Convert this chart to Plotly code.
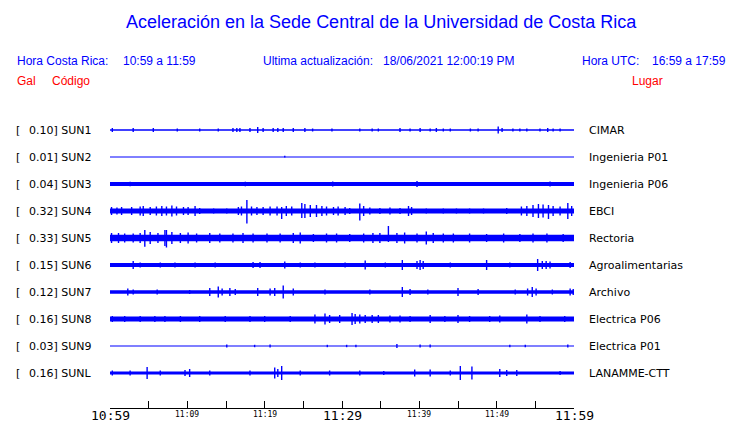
import plotly.graph_objects as go

# ---------------- data ----------------
stations = ["SUN1", "SUN2", "SUN3", "SUN4", "SUN5", "SUN6", "SUN7", "SUN8", "SUN9", "SUNL"]
gal_peak = [0.10, 0.01, 0.04, 0.32, 0.33, 0.15, 0.12, 0.16, 0.03, 0.16]
places = ["CIMAR", "Ingenieria P01", "Ingenieria P06", "EBCI", "Rectoria",
          "Agroalimentarias", "Archivo", "Electrica P06", "Electrica P01", "LANAMME-CTT"]

# background noise half-amplitude of each trace (display units)
noise_level = [0.7, 0.5, 1.9, 2.5, 3.3, 1.9, 1.8, 2.5, 0.6, 1.6]

# visible bursts: (minute after 10:59, amplitude up, amplitude down)
bursts_SUN1 = [(0.3, 2, 2), (3.0, 2, 2), (5.6, 2, 2), (8.7, 1.5, 1.5), (11.6, 1.5, 1.5), (14.0, 1.5, 1.5),
               (15.9, 2, 2), (16.4, 2, 2), (16.8, 2, 2), (18.1, 2, 2), (19.1, 3, 3), (19.8, 2, 2),
               (21.1, 2, 2), (21.7, 2, 2), (22.4, 2, 2), (23.7, 2, 2), (25.2, 2, 2), (26.2, 1.5, 1.5),
               (28.7, 1.5, 1.5), (32.3, 1.5, 1.5), (33.9, 1.5, 1.5), (34.7, 1.5, 1.5), (37.5, 2, 2),
               (38.8, 1.5, 1.5), (40.1, 2, 2), (41.4, 1.5, 1.5), (42.2, 2, 2), (43.1, 1.5, 1.5),
               (44.0, 1.5, 1.5), (46.6, 1.5, 1.5), (47.6, 1.5, 1.5), (50.2, 3.5, 3.5), (50.7, 2, 2),
               (52.1, 1.5, 1.5), (53.0, 1.5, 1.5), (53.9, 1.5, 1.5), (55.6, 1.5, 1.5), (56.6, 2, 2),
               (57.3, 1.5, 1.5), (58.2, 1.5, 1.5)]
bursts_SUN2 = [(22.6, 1.2, 0.5)]
bursts_SUN3 = [(2.6, 2.3, 2.3), (17.5, 2.3, 2.3), (28.8, 2.5, 2.5), (39.7, 3, 3), (56.9, 2.5, 2.5)]
bursts_SUN4 = [(0.2, 4, 4), (0.9, 3.5, 3.5), (1.5, 4, 4), (2.8, 4, 4), (3.9, 4.5, 4.5), (4.3, 5, 5),
               (5.2, 4, 4), (6.0, 4.5, 4.5), (6.7, 5, 5), (7.3, 4.5, 4.5), (8.0, 5.5, 5.5), (8.6, 4.5, 4.5),
               (9.5, 4, 4), (10.1, 4, 4), (11.0, 5, 5), (11.6, 3, 3), (13.4, 2.5, 2.5), (15.1, 2.5, 2.5),
               (16.6, 4, 4), (17.0, 4.5, 4.5), (17.7, 11, 12.5), (18.3, 4.5, 4.5), (19.0, 4, 4),
               (19.8, 4, 4), (20.7, 4.5, 4.5), (21.6, 4.5, 4.5), (22.2, 4, 8), (22.8, 5, 5),
               (23.5, 4.5, 4.5), (24.8, 8, 7), (25.2, 7, 7), (25.9, 6, 6), (26.7, 6, 6), (27.4, 5, 5),
               (28.0, 4.5, 4.5), (28.9, 4, 4), (29.5, 4.5, 4.5), (30.4, 4, 4), (31.0, 3, 3),
               (32.3, 7.5, 9.5), (32.8, 5, 5), (33.6, 3.5, 3.5), (34.9, 3, 3), (36.2, 3.5, 3.5),
               (37.5, 3, 3), (38.6, 5, 5), (39.0, 4, 4), (40.9, 2.5, 2.5), (43.1, 2.5, 2.5),
               (44.8, 2.5, 2.5), (46.5, 2.5, 2.5), (48.3, 2.5, 2.5), (51.3, 3, 3), (53.2, 4.5, 4.5),
               (53.9, 5, 5), (54.7, 6, 6), (55.4, 7, 7), (56.0, 6.5, 6.5), (56.7, 6, 8), (57.3, 5, 5),
               (58.2, 4.5, 4.5), (59.2, 8, 8), (59.7, 5, 5)]
bursts_SUN5 = [(0.2, 5, 5), (1.1, 5, 5), (1.9, 4.5, 4.5), (3.0, 4.5, 4.5), (3.9, 5, 5), (4.5, 8, 8.7),
               (5.2, 6, 6), (6.2, 5, 5), (7.1, 8, 8), (7.3, 8, 9.5), (8.0, 6, 6), (9.1, 5, 5),
               (10.1, 5.5, 5.5), (11.2, 4.5, 4.5), (12.9, 5, 5), (14.2, 4.5, 4.5), (15.9, 4.5, 4.5),
               (17.2, 5, 5), (18.5, 4.5, 4.5), (20.3, 4.5, 4.5), (22.0, 4.5, 4.5), (23.7, 5, 5),
               (24.6, 5.5, 5.5), (26.3, 4, 4), (28.0, 4.5, 4.5), (29.3, 4.5, 4.5), (31.0, 4, 4),
               (32.8, 4.5, 4.5), (34.0, 5, 5), (34.9, 5, 5), (36.0, 12, 4), (37.1, 5, 5), (38.1, 5.5, 5.5),
               (39.7, 4.5, 4.5), (40.9, 6.5, 6.5), (41.8, 5, 5), (43.1, 4.5, 4.5), (44.4, 4.5, 4.5),
               (46.5, 4.5, 4.5), (48.7, 4, 4), (50.9, 4.5, 4.5), (53.0, 4, 4), (54.7, 4.5, 4.5),
               (56.5, 4.5, 4.5), (58.6, 4, 4)]
bursts_SUN6 = [(3.0, 4, 4), (3.9, 2.5, 2.5), (6.5, 2.5, 2.5), (8.4, 2.5, 2.5), (11.0, 2.5, 2.5),
               (13.6, 2.5, 2.5), (18.5, 3, 3), (19.4, 3, 3), (22.6, 3.5, 3.5), (24.6, 2.5, 2.5),
               (26.5, 2.5, 2.5), (30.4, 2.5, 2.5), (33.0, 4.5, 4.5), (35.6, 2.5, 2.5), (37.8, 5, 5),
               (39.7, 4, 4), (40.1, 5, 5), (40.5, 4, 4), (44.0, 2.5, 2.5), (48.7, 5, 5), (51.7, 2.5, 2.5),
               (55.3, 6, 6), (55.9, 4, 4), (56.4, 4, 4), (56.9, 3.5, 3.5), (59.5, 3, 3)]
bursts_SUN7 = [(2.3, 3.5, 3.5), (3.0, 2.5, 2.5), (6.1, 2.5, 2.5), (10.3, 2, 2), (12.9, 4, 4),
               (14.0, 5.5, 5.5), (14.5, 3.5, 3.5), (15.5, 4, 4), (16.2, 3, 3), (19.1, 4, 4),
               (20.7, 3.5, 3.5), (21.3, 4, 4), (22.4, 6.5, 6.5), (23.7, 3.5, 3.5), (27.8, 2.5, 2.5),
               (33.6, 2.5, 2.5), (37.8, 5, 5), (38.8, 3, 3), (41.1, 2.5, 2.5), (45.0, 4, 4),
               (47.6, 3, 3), (52.4, 2.5, 2.5), (54.0, 3.5, 3.5), (54.6, 5, 5), (55.1, 3.5, 3.5),
               (57.2, 2.5, 2.5), (59.5, 3.5, 3.5), (59.9, 3, 3)]
bursts_SUN8 = [(0.3, 3, 3), (1.9, 3, 3), (3.9, 3, 3), (5.8, 3, 3), (7.1, 3, 3), (9.1, 3, 3),
               (11.6, 3, 3), (14.9, 3, 3), (18.1, 3, 3), (20.0, 3, 3), (23.3, 3, 3), (26.5, 4.5, 4.5),
               (27.8, 5.5, 5.5), (28.4, 4, 4), (29.7, 4, 4), (31.3, 6, 6), (31.7, 5, 5), (32.3, 4.5, 4.5),
               (33.0, 4, 4), (33.9, 4, 4), (34.7, 4, 4), (36.2, 3.5, 3.5), (37.5, 3.5, 3.5),
               (38.8, 3, 3), (41.4, 4, 4), (43.3, 3, 3), (45.0, 4, 4), (46.5, 3, 3), (49.1, 3, 3),
               (50.4, 3.5, 3.5), (53.9, 4.5, 4.5), (55.6, 3, 3), (58.8, 3, 3)]
bursts_SUN9 = [(15.1, 1.5, 1.5), (18.7, 1.2, 1.2), (20.7, 1.5, 1.5), (28.1, 1.2, 1.2), (30.6, 1.2, 1.2),
               (31.8, 1.2, 1.2), (37.1, 2, 2), (40.1, 1.5, 1.5), (41.4, 1.5, 1.5), (51.7, 1.2, 1.2),
               (53.7, 1.2, 1.2), (59.2, 1.5, 1.5)]
bursts_SUNL = [(0.3, 2.5, 2.5), (2.6, 2.5, 2.5), (4.8, 6, 6), (6.5, 2.5, 2.5), (9.7, 3, 3), (10.3, 4, 4),
               (12.9, 2.5, 2.5), (18.1, 2.5, 2.5), (21.3, 5.5, 5.5), (21.7, 4, 4), (22.2, 7, 7),
               (24.6, 2.5, 2.5), (28.4, 2.5, 2.5), (32.3, 2.5, 2.5), (35.4, 2, 2), (39.4, 3.5, 3.5),
               (41.4, 3.5, 3.5), (44.0, 2.5, 2.5), (45.3, 7, 7), (46.8, 6.5, 6.5), (50.4, 4, 4),
               (51.3, 3, 3), (52.6, 3, 3), (58.2, 2, 2)]
bursts = [bursts_SUN1, bursts_SUN2, bursts_SUN3, bursts_SUN4, bursts_SUN5,
          bursts_SUN6, bursts_SUN7, bursts_SUN8, bursts_SUN9, bursts_SUNL]

tick_minutes = [0, 5, 10, 15, 20, 25, 30, 35, 40, 45, 50, 55, 60]
tick_labels = ["10:59", "", "11:09", "", "11:19", "", "11:29", "", "11:39", "", "11:49", "", "11:59"]
major_labels = ["10:59", "11:29", "11:59"]

# ---------------- layout helpers ----------------
W, H = 740, 423
L, R, T, B = 110, 574, 110, 408
BLUE = "#0000FF"
RED = "#FF0000"


def px(x):
    return (x - L) / (R - L)


def py(y):
    return (B - y) / (B - T)


first_row = B - 130
row_gap = 27

fig = go.Figure()
for i, name in enumerate(stations):
    base = first_row - i * row_gap
    c = noise_level[i]
    fig.add_trace(go.Scatter(x=[0, 60], y=[base, base], mode="lines",
                             line=dict(color=BLUE, width=max(2 * c, 1.0)),
                             hoverinfo="skip", showlegend=False))
    xs, ys = [], []
    for (m, up, dn) in bursts[i]:
        xs += [m, m, None]
        ys += [base + up, base - dn, None]
    fig.add_trace(go.Scatter(x=xs, y=ys, mode="lines",
                             line=dict(color=BLUE, width=1.4),
                             hoverinfo="skip", showlegend=False, connectgaps=False))

ann = []
lab_font = dict(family="DejaVu Sans", size=11, color="black")
for i, name in enumerate(stations):
    base = first_row - i * row_gap
    ann.append(dict(x=px(14), y=base, xref="paper", yref="y", text="[", showarrow=False,
                    xanchor="left", yanchor="middle", font=lab_font))
    ann.append(dict(x=px(27), y=base, xref="paper", yref="y", text=f"{gal_peak[i]:.2f}] {name}",
                    showarrow=False, xanchor="left", yanchor="middle", font=lab_font))
    ann.append(dict(x=px(587), y=base, xref="paper", yref="y", text=places[i], showarrow=False,
                    xanchor="left", yanchor="middle", font=lab_font))

for m, t in zip(tick_minutes, tick_labels):
    if not t:
        continue
    big = t in major_labels
    ann.append(dict(x=m, y=py(415.5 if big else 414), xref="x", yref="paper", text=t, showarrow=False,
                    xanchor="center", yanchor="middle",
                    font=dict(family="DejaVu Sans Mono", size=13 if big else 8, color="black")))

hfont = dict(family="Liberation Sans, Arial", size=12, color=BLUE)
rfont = dict(family="Liberation Sans, Arial", size=12, color=RED)
ann.append(dict(x=px(381), y=py(22), xref="paper", yref="paper",
                text="Aceleración en la Sede Central de la Universidad de Costa Rica",
                showarrow=False, xanchor="center", yanchor="middle",
                font=dict(family="Liberation Sans, Arial", size=18, color=BLUE)))
for text, x0 in [("Hora Costa Rica:", 15), ("10:59 a 11:59", 121),
                 ("Ultima actualización:", 261), ("18/06/2021 12:00:19 PM", 381),
                 ("Hora UTC:", 580), ("16:59 a 17:59", 650)]:
    ann.append(dict(x=px(x0), y=py(61), xref="paper", yref="paper", text=text, showarrow=False,
                    xanchor="left", yanchor="middle", font=hfont))
for text, x0 in [("Gal", 15), ("Código", 50), ("Lugar", 630)]:
    ann.append(dict(x=px(x0), y=py(80.5), xref="paper", yref="paper", text=text, showarrow=False,
                    xanchor="left", yanchor="middle", font=rfont))

fig.update_layout(
    width=W, height=H,
    margin=dict(l=L, r=W - R, t=T, b=H - B, pad=0),
    paper_bgcolor="white", plot_bgcolor="white",
    xaxis=dict(range=[0, 60], showgrid=False, zeroline=False, showline=True, linecolor="black",
               linewidth=1, ticks="inside", ticklen=7, tickcolor="black", tickwidth=1,
               tickvals=tick_minutes, showticklabels=False, fixedrange=True),
    yaxis=dict(range=[0, B - T], visible=False, fixedrange=True),
    annotations=ann,
)

fig.write_html("out.html", config={"displayModeBar": False},
               post_script="document.body.style.margin='0';document.body.style.overflow='hidden';")
